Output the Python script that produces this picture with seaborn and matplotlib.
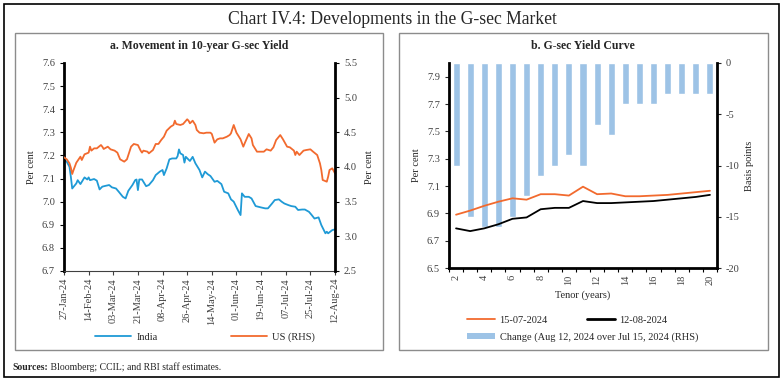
import pandas as pd
import seaborn as sns
import matplotlib.pyplot as plt
from matplotlib.patches import Rectangle, Patch
from matplotlib.lines import Line2D
import matplotlib.dates as mdates

# データ
start = pd.Timestamp('2024-01-27')

india_day = [0, 2, 4, 5, 6, 9, 10, 12, 15, 17, 18, 19, 22, 24, 26, 28, 30, 33, 35, 38,
             40, 43, 45, 47, 50, 52, 53, 54, 55, 57, 60, 62, 65, 67, 70, 72, 73, 75, 77, 79,
             82, 83, 84, 85, 87, 88, 89, 92, 94, 96, 99, 101, 103, 105, 107, 110, 112, 115, 117, 120,
             122, 124, 127, 129, 130, 132, 135, 137, 140, 142, 144, 147, 149, 152, 154, 157, 159, 161, 164, 166,
             169, 171, 174, 176, 179, 181, 183, 186, 188, 191, 192, 193, 196, 198]
india_yield = [7.180, 7.173, 7.151, 7.108, 7.057, 7.079, 7.093, 7.076, 7.105, 7.096,
               7.105, 7.093, 7.098, 7.091, 7.053, 7.065, 7.068, 7.072, 7.062, 7.057,
               7.043, 7.021, 7.014, 7.047, 7.072, 7.093, 7.096, 7.050, 7.096, 7.096,
               7.067, 7.072, 7.093, 7.115, 7.130, 7.137, 7.115, 7.144, 7.183, 7.187,
               7.187, 7.197, 7.226, 7.209, 7.202, 7.169, 7.194, 7.176, 7.194, 7.166,
               7.137, 7.105, 7.130, 7.119, 7.111, 7.086, 7.090, 7.076, 7.043, 7.036,
               7.010, 7.000, 6.964, 6.942, 7.036, 7.021, 7.021, 7.014, 6.981, 6.978,
               6.975, 6.971, 6.971, 6.992, 7.007, 7.010, 7.000, 6.992, 6.985, 6.981,
               6.978, 6.964, 6.966, 6.966, 6.956, 6.942, 6.927, 6.932, 6.899, 6.863,
               6.870, 6.863, 6.877, 6.880]

us_day = [0, 2, 4, 5, 6, 7, 9, 12, 13, 15, 18, 19, 20, 22, 24, 27, 28, 29, 32, 34,
          37, 39, 41, 44, 46, 49, 51, 54, 56, 57, 58, 61, 62, 65, 67, 69, 71, 73, 75, 78,
          80, 81, 82, 85, 87, 90, 91, 92, 94, 96, 97, 99, 102, 104, 107, 108, 110, 112, 114, 116,
          119, 121, 122, 124, 126, 129, 131, 132, 135, 137, 138, 141, 143, 146, 148, 151, 153, 155, 158, 160,
          163, 165, 168, 169, 170, 172, 175, 177, 180, 182, 185, 187, 188, 189, 192, 193, 194, 196, 198]
us_yield = [4.140, 4.111, 4.053, 3.990, 3.899, 3.957, 4.062, 4.149, 4.101, 4.183,
            4.207, 4.293, 4.236, 4.269, 4.269, 4.317, 4.293, 4.260, 4.293, 4.255,
            4.236, 4.207, 4.111, 4.077, 4.111, 4.293, 4.332, 4.317, 4.236, 4.207,
            4.236, 4.221, 4.197, 4.245, 4.332, 4.332, 4.389, 4.437, 4.524, 4.582,
            4.606, 4.668, 4.620, 4.606, 4.620, 4.688, 4.668, 4.630, 4.668, 4.606,
            4.534, 4.495, 4.486, 4.495, 4.495, 4.476, 4.351, 4.399, 4.413, 4.413,
            4.437, 4.461, 4.486, 4.606, 4.495, 4.399, 4.293, 4.341, 4.476, 4.413,
            4.317, 4.221, 4.221, 4.221, 4.255, 4.236, 4.284, 4.389, 4.461, 4.399,
            4.293, 4.284, 4.236, 4.173, 4.221, 4.173, 4.236, 4.245, 4.255, 4.221,
            4.173, 4.053, 3.957, 3.813, 3.788, 3.861, 3.957, 3.981, 3.909]

tenor = list(range(2, 21))
yield_jul15 = [6.89, 6.92, 6.955, 6.985, 7.01, 7.00, 7.04, 7.04, 7.03, 7.095,
               7.04, 7.045, 7.025, 7.025, 7.03, 7.035, 7.045, 7.055, 7.065]
yield_aug12 = [6.79, 6.77, 6.79, 6.82, 6.86, 6.87, 6.93, 6.94, 6.94, 6.99,
               6.975, 6.975, 6.98, 6.985, 6.99, 7.00, 7.01, 7.02, 7.035]
change_bp = [-10, -15, -16, -16, -15, -13, -11, -10, -9, -10,
             -6, -7, -4, -4, -4, -3, -3, -3, -3]

india_dates = start + pd.to_timedelta(india_day, unit='D')
us_dates = start + pd.to_timedelta(us_day, unit='D')

# 色
c_india = '#1f9ad6'
c_us = '#f26a2e'
c_bar = '#9dc3e6'

sns.set_style('white')
plt.rcParams['font.family'] = ['Liberation Serif', 'DejaVu Serif']
plt.rcParams['axes.unicode_minus'] = False
fs = 7.5

fig = plt.figure(figsize=(7.84, 3.84), dpi=100)
W, H = 784, 384


def fx(px):
    return px / W


def fy(py):
    return 1 - py / H


# 外枠とパネル枠
fig.patches.append(Rectangle((fx(4), fy(377)), fx(775), (377 - 4) / H, fill=False,
                             edgecolor='black', lw=1.2, transform=fig.transFigure))
for x0, x1 in [(15, 383), (399, 768)]:
    fig.patches.append(Rectangle((fx(x0), fy(350)), fx(x1 - x0), (350 - 33) / H, fill=False,
                                 edgecolor='#8c8c8c', lw=1.0, transform=fig.transFigure))

fig.text(0.5, fy(20), 'Chart IV.4: Developments in the G-sec Market', ha='center', va='center',
         fontsize=12.7)
fig.text(fx(199), fy(46), 'a. Movement in 10-year G-sec Yield', ha='center', va='center',
         fontsize=8.5, fontweight='bold')
fig.text(fx(583), fy(46), 'b. G-sec Yield Curve', ha='center', va='center',
         fontsize=8.5, fontweight='bold')

# ---- a. 10年国債利回り ----
ax1 = fig.add_axes([fx(64), fy(271), fx(335 - 64), (271 - 63) / H])
sns.lineplot(x=india_dates, y=india_yield, ax=ax1, color=c_india, lw=1.3)
ax1b = ax1.twinx()
sns.lineplot(x=us_dates, y=us_yield, ax=ax1b, color=c_us, lw=1.3)

ax1.set_xlim(start, pd.Timestamp('2024-08-12'))
ax1.set_ylim(6.7, 7.6)
ax1.set_yticks([6.7 + 0.1 * i for i in range(10)])
ax1.set_yticklabels([f'{6.7 + 0.1 * i:.1f}' for i in range(10)])
ax1b.set_ylim(2.5, 5.5)
ax1b.set_yticks([2.5, 3.0, 3.5, 4.0, 4.5, 5.0, 5.5])
ax1b.set_yticklabels(['2.5', '3.0', '3.5', '4.0', '4.5', '5.0', '5.5'])
ax1.set_xticks(pd.date_range(start, '2024-08-12', freq='18D'))
ax1.xaxis.set_major_formatter(mdates.DateFormatter('%d-%b-%y'))
ax1.tick_params(axis='x', rotation=90, labelsize=fs, length=3, width=0.8, color='#404040',
                direction='out', bottom=True, pad=2, labelcolor='#404040')
ax1.tick_params(axis='y', labelsize=fs, length=3, width=0.8, direction='out', left=True,
                color='black', labelcolor='#404040')
ax1b.tick_params(axis='y', labelsize=fs, length=3, width=0.8, direction='out', right=True,
                 color='black', labelcolor='#404040')
ax1.set_ylabel('Per cent', fontsize=fs, labelpad=4)
ax1b.set_ylabel('Per cent', fontsize=fs, labelpad=6)
ax1.set_xlabel('')
for ax in (ax1, ax1b):
    ax.spines['top'].set_visible(False)
    ax.grid(False)
ax1.spines['right'].set_visible(False)
ax1b.spines['left'].set_visible(False)
ax1b.spines['bottom'].set_visible(False)
ax1.spines['left'].set_linewidth(2)
ax1.spines['left'].set_color('black')
ax1b.spines['right'].set_linewidth(2)
ax1b.spines['right'].set_color('black')
ax1.spines['bottom'].set_linewidth(0.8)
ax1.spines['bottom'].set_color('#404040')

fig.legend(handles=[Line2D([], [], color=c_india, lw=1.3), Line2D([], [], color=c_us, lw=1.3)],
           labels=['India', 'US (RHS)'], loc='center', bbox_to_anchor=(fx(205), fy(337)),
           ncol=2, frameon=False, fontsize=fs, handlelength=3.5, columnspacing=7,
           handletextpad=0.5, borderpad=0)

# ---- b. イールドカーブ ----
ax2 = fig.add_axes([fx(449), fy(268), fx(717 - 449), (268 - 63) / H])
ax2r = ax2.twinx()
sns.barplot(x=tenor, y=change_bp, ax=ax2r, native_scale=True, width=0.5, color=c_bar,
            saturation=1)
sns.lineplot(x=tenor, y=yield_jul15, ax=ax2, color=c_us, lw=1.3)
sns.lineplot(x=tenor, y=yield_aug12, ax=ax2, color='black', lw=1.3)
ax2.set_zorder(ax2r.get_zorder() + 1)
ax2.patch.set_visible(False)

ax2.set_xlim(1.5, 20.5)
ax2.set_ylim(6.5, 8.0)
ax2.set_yticks([6.5, 6.7, 6.9, 7.1, 7.3, 7.5, 7.7, 7.9])
ax2.set_yticklabels(['6.5', '6.7', '6.9', '7.1', '7.3', '7.5', '7.7', '7.9'])
ax2r.set_ylim(-20, 0)
ax2r.set_yticks([-20, -15, -10, -5, 0])
ax2r.set_yticklabels(['-20', '-15', '-10', '-5', '0'])
ax2.set_xticks(list(range(2, 21, 2)))
ax2.set_xticklabels([str(t) for t in range(2, 21, 2)])
ax2.set_xticks([t + 0.5 for t in range(1, 21)], minor=True)
ax2.tick_params(axis='x', which='major', length=0, rotation=90, labelsize=fs, pad=5,
                labelcolor='#404040')
ax2.tick_params(axis='x', which='minor', length=3, width=0.8, direction='out', bottom=True,
                color='black')
ax2.tick_params(axis='y', labelsize=fs, length=3, width=0.8, direction='out', left=True,
                labelcolor='#404040')
ax2r.tick_params(axis='y', labelsize=fs, length=3, width=0.8, direction='out', right=True,
                 labelcolor='#404040')
ax2.set_xlabel('Tenor (years)', fontsize=fs, labelpad=4)
ax2.set_ylabel('Per cent', fontsize=fs, labelpad=4)
ax2r.set_ylabel('Basis points', fontsize=fs, labelpad=4)
ax2r.set_xlabel('')
for ax in (ax2, ax2r):
    ax.spines['top'].set_visible(False)
    ax.grid(False)
ax2.spines['right'].set_visible(False)
ax2r.spines['left'].set_visible(False)
ax2r.spines['bottom'].set_visible(False)
for sp in (ax2.spines['left'], ax2.spines['bottom'], ax2r.spines['right']):
    sp.set_linewidth(2)
    sp.set_color('black')

fig.legend(handles=[Line2D([], [], color=c_us, lw=1.3), Line2D([], [], color='black', lw=2)],
           labels=['15-07-2024', '12-08-2024'], loc='center left',
           bbox_to_anchor=(fx(462), fy(320)), ncol=2, frameon=False, fontsize=fs,
           handlelength=2.7, columnspacing=3.8, handletextpad=0.4, borderpad=0)
fig.legend(handles=[Patch(facecolor=c_bar, edgecolor='none')],
           labels=['Change (Aug 12, 2024 over Jul 15, 2024 (RHS)'], loc='center left',
           bbox_to_anchor=(fx(462), fy(337)), frameon=False, fontsize=fs,
           handlelength=2.7, handleheight=0.6, handletextpad=0.4, borderpad=0)

# 出典
src = fig.text(fx(12), fy(367), 'Sources:', ha='left', va='center', fontsize=7, fontweight='bold')
fig.add_artist(plt.Annotation(' Bloomberg; CCIL; and RBI staff estimates.', xy=(1, 0),
                              xycoords=src, ha='left', va='bottom', fontsize=7,
                              annotation_clip=False))

fig.savefig('out.png', dpi=100)
